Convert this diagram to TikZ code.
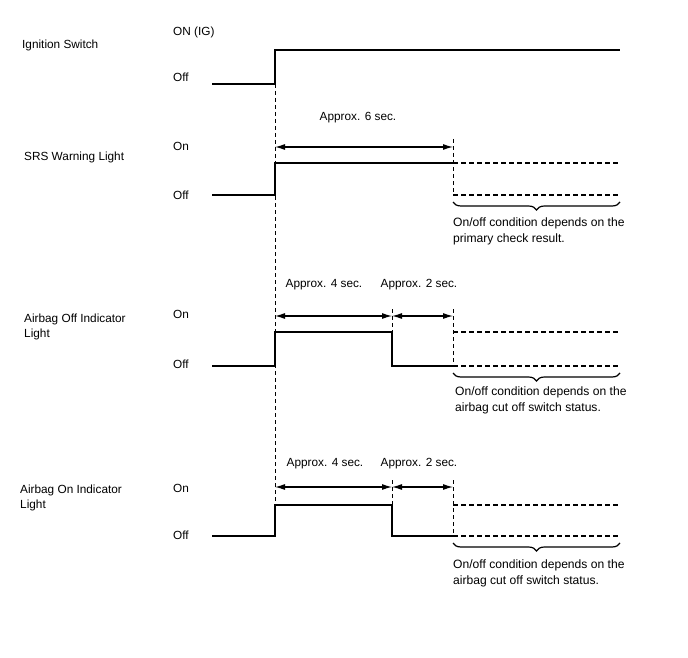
\documentclass[tikz,border=0pt]{standalone}
\usepackage{fontspec}
\setmainfont{Liberation Sans}
\usetikzlibrary{arrows.meta,decorations.pathreplacing}
\begin{document}
\begin{tikzpicture}[x=1pt,y=-1pt,
  txt/.style={anchor=west,inner sep=0pt,font=\fontsize{11.8}{15}\selectfont,align=left},
  ntxt/.style={anchor=west,inner sep=0pt,font=\fontsize{12.1}{16}\selectfont,align=left},
  ctxt/.style={inner sep=0pt,font=\fontsize{11.8}{15}\selectfont},
  sig/.style={line width=1.5pt},
  dsig/.style={line width=1.1pt,dash pattern=on 5pt off 3pt},
  guide/.style={line width=0.7pt,dash pattern=on 4pt off 3pt},
  dim/.style={line width=1.1pt,{Latex[length=10pt,width=6pt]}-{Latex[length=10pt,width=6pt]}},
  brc/.style={line width=1.2pt,decorate,decoration={brace,mirror,amplitude=8pt}}]
\useasboundingbox (0,0) rectangle (688,658);
% ---- Ignition switch
\node[txt] (l1) at (22,45) {Ignition Switch};
\node[txt] (on1) at (173,32) {ON (IG)};
\node[txt] (off1) at (173,77) {Off};
\coordinate (i0) at (212,84);
\coordinate (i1) at (275,84);
\coordinate (i2) at (275,50);
\coordinate (i3) at (620,50);
\draw[sig] (i0) -- (i1) -- (i2) -- (i3);
% ---- main vertical guide
\coordinate (g0) at (275,84);
\coordinate (g1) at (275,536);
\draw[guide] (g0) -- (g1);
% ---- SRS Warning Light
\node[txt] (l2) at (24,157) {SRS Warning Light};
\node[txt] (on2) at (173,146) {On};
\node[txt] (off2) at (173,195) {Off};
\coordinate (s0) at (212,195);
\coordinate (s1) at (275,195);
\coordinate (s2) at (275,163);
\coordinate (s3) at (453,163);
\coordinate (s4) at (620,163);
\coordinate (s5) at (453,195);
\coordinate (s6) at (620,195);
\coordinate (sg) at (453,139);
\draw[sig] (s0) -- (s1) -- (s2) -- (s3);
\draw[dsig] (s3) -- (s4);
\draw[dsig] (s5) -- (s6);
\draw[guide] (sg) -- (s5);
\coordinate (sa0) at (275,147);
\coordinate (sa1) at (453,147);
\draw[dim] (sa0) -- (sa1);
\node[ctxt] (t6) at (358,118) {Approx. 6 sec.};
\coordinate (sb0) at (453,202);
\coordinate (sb1) at (620,202);
\draw[brc] (sb0) -- (sb1);
\node[ntxt] (n2) at (453,231) {On/off condition depends on the\\primary check result.};
% ---- Airbag Off Indicator Light
\node[txt] (l3) at (24,327) {Airbag Off Indicator\\Light};
\node[txt] (on3) at (173,314) {On};
\node[txt] (off3) at (173,364) {Off};
\coordinate (a0) at (212,366);
\coordinate (a1) at (275,366);
\coordinate (a2) at (275,332);
\coordinate (a3) at (392,332);
\coordinate (a4) at (392,366);
\coordinate (a5) at (453,366);
\coordinate (a6) at (453,332);
\coordinate (a7) at (620,332);
\coordinate (a8) at (620,366);
\coordinate (ag1) at (392,309);
\coordinate (ag2) at (453,309);
\draw[sig] (a0) -- (a1) -- (a2) -- (a3) -- (a4) -- (a5);
\draw[dsig] (a6) -- (a7);
\draw[dsig] (a5) -- (a8);
\draw[guide] (ag1) -- (a3);
\draw[guide] (ag2) -- (a5);
\coordinate (aa0) at (275,316);
\coordinate (aa1) at (392,316);
\coordinate (aa2) at (453,316);
\draw[dim] (aa0) -- (aa1);
\draw[dim] (aa1) -- (aa2);
\node[ctxt] (t4a) at (324,285) {Approx. 4 sec.};
\node[ctxt] (t2a) at (419,285) {Approx. 2 sec.};
\coordinate (ab0) at (453,373);
\coordinate (ab1) at (620,373);
\draw[brc] (ab0) -- (ab1);
\node[ntxt] (n3) at (455,400) {On/off condition depends on the\\airbag cut off switch status.};
% ---- Airbag On Indicator Light
\node[txt] (l4) at (20,498) {Airbag On Indicator\\Light};
\node[txt] (on4) at (173,488) {On};
\node[txt] (off4) at (173,535) {Off};
\coordinate (b0) at (212,536);
\coordinate (b1) at (275,536);
\coordinate (b2) at (275,505);
\coordinate (b3) at (392,505);
\coordinate (b4) at (392,536);
\coordinate (b5) at (453,536);
\coordinate (b6) at (453,505);
\coordinate (b7) at (620,505);
\coordinate (b8) at (620,536);
\coordinate (bg1) at (392,480);
\coordinate (bg2) at (453,480);
\draw[sig] (b0) -- (b1) -- (b2) -- (b3) -- (b4) -- (b5);
\draw[dsig] (b6) -- (b7);
\draw[dsig] (b5) -- (b8);
\draw[guide] (bg1) -- (b3);
\draw[guide] (bg2) -- (b5);
\coordinate (ba0) at (275,487);
\coordinate (ba1) at (392,487);
\coordinate (ba2) at (453,487);
\draw[dim] (ba0) -- (ba1);
\draw[dim] (ba1) -- (ba2);
\node[ctxt] (t4b) at (325,464) {Approx. 4 sec.};
\node[ctxt] (t2b) at (419,464) {Approx. 2 sec.};
\coordinate (bb0) at (453,543);
\coordinate (bb1) at (620,543);
\draw[brc] (bb0) -- (bb1);
\node[ntxt] (n4) at (453,573) {On/off condition depends on the\\airbag cut off switch status.};
\end{tikzpicture}
\end{document}
